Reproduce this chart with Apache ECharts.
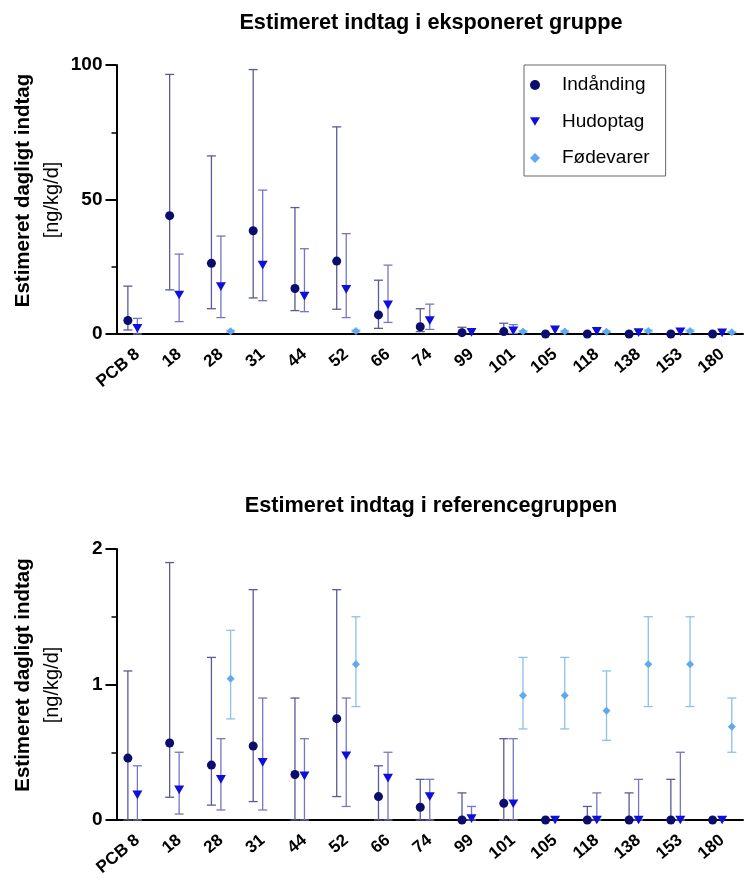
<!DOCTYPE html>
<html>
<head>
<meta charset="utf-8">
<script src="https://cdn.jsdelivr.net/npm/echarts@6/dist/echarts.min.js"></script>
<style>
html,body{margin:0;padding:0;background:#fff;}
#c{width:747px;height:891px;}
</style>
</head>
<body>
<div id="c"></div>
<script>
var categories = ['PCB 8','18','28','31','44','52','66','74','99','101','105','118','138','153','180'];
var seriesNames = ['Indånding','Hudoptag','Fødevarer'];
var titles = ['Estimeret indtag i eksponeret gruppe','Estimeret indtag i referencegruppen'];
var yName = 'Estimeret dagligt indtag';
var yUnit = '[ng/kg/d]';
var topTicks = [0, 50, 100];
var bottomTicks = [0, 1, 2];

// Exposed group (top)
var expInhal     = [5.0, 44.0, 26.3, 38.4, 16.9, 27.1, 7.1, 2.7, 0.5, 0.9, 0, 0, 0, 0, 0];
var expInhalLow  = [1.5, 16.4, 9.4, 13.4, 8.7, 9.2, 2.1, 0.9, 0, 0.2, null, null, null, null, null];
var expInhalHigh = [17.8, 96.5, 66.2, 98.3, 47.0, 77.0, 20.0, 9.4, 2.5, 4.0, null, null, null, null, null];
var expDerm      = [2.1, 14.5, 17.6, 25.6, 14.1, 16.6, 10.8, 5.0, 0.6, 1.2, 1.5, 1.0, 0.5, 0.8, 0.4];
var expDermLow   = [0, 4.6, 6.1, 12.4, 8.3, 6.1, 4.3, 1.7, null, 0.2, null, null, null, null, null];
var expDermHigh  = [5.8, 29.7, 36.4, 53.5, 31.7, 37.3, 25.6, 11.1, null, 3.5, null, null, null, null, null];

// Reference group (bottom)
var refInhal     = [0.457, 0.568, 0.405, 0.546, 0.336, 0.748, 0.173, 0.094, 0, 0.123, 0, 0, 0, 0, 0];
var refInhalLow  = [0, 0.168, 0.11, 0.136, 0, 0.173, 0, 0, 0, 0, null, 0, 0, 0, null];
var refInhalHigh = [1.10, 1.90, 1.20, 1.70, 0.90, 1.70, 0.40, 0.30, 0.20, 0.60, null, 0.10, 0.20, 0.30, null];
var refDerm      = [0.185, 0.222, 0.30, 0.425, 0.326, 0.474, 0.309, 0.173, 0.01, 0.12, 0, 0, 0, 0, 0];
var refDermLow   = [0, 0.044, 0.074, 0.074, 0, 0.10, 0, 0, 0, 0, null, 0, 0, 0, null];
var refDermHigh  = [0.40, 0.50, 0.60, 0.90, 0.60, 0.90, 0.50, 0.30, 0.10, 0.60, null, 0.20, 0.30, 0.50, null];

// Food (same in both groups)
var food     = [null, null, 1.042, null, null, 1.15, null, null, null, 0.918, 0.918, 0.807, 1.15, 1.15, 0.689];
var foodLow  = [null, null, 0.746, null, null, 0.837, null, null, null, 0.672, 0.672, 0.588, 0.837, 0.837, 0.50];
var foodHigh = [null, null, 1.40, null, null, 1.50, null, null, null, 1.20, 1.20, 1.10, 1.50, 1.50, 0.90];

var FONT = "'Liberation Sans', Arial, sans-serif";
var cInhal = '#0c0c6c', cDerm = '#0f0fdc', cFood = '#62a8ec';
var eInhal = '#5a5a96', eDerm = '#7676c4', eFood = '#8cc0ee';
var offInhal = -9.5, offDerm = 0, offFood = 9.7;
var triDown = 'path://M0,0 L10,0 L5,8.7 Z';

function errData(lo, hi) {
  var out = [];
  for (var i = 0; i < lo.length; i++) {
    if (lo[i] != null && hi[i] != null) out.push([i, lo[i], hi[i]]);
  }
  return out;
}
function ptData(v) { return v.map(function (d) { return d == null ? '-' : d; }); }

function errSeries(idx, lo, hi, off, color) {
  return {
    type: 'custom', xAxisIndex: idx, yAxisIndex: idx, z: 2,
    data: errData(lo, hi),
    encode: { x: 0, y: [1, 2] },
    silent: true,
    renderItem: function (params, api) {
      var i = api.value(0);
      var a = api.coord([i, api.value(1)]);
      var b = api.coord([i, api.value(2)]);
      var x = a[0] + off;
      var cw = 4.5;
      var st = { stroke: color, lineWidth: 1.3 };
      return {
        type: 'group',
        children: [
          { type: 'line', shape: { x1: x, y1: a[1], x2: x, y2: b[1] }, style: st },
          { type: 'line', shape: { x1: x - cw, y1: a[1], x2: x + cw, y2: a[1] }, style: st },
          { type: 'line', shape: { x1: x - cw, y1: b[1], x2: x + cw, y2: b[1] }, style: st }
        ]
      };
    }
  };
}
function ptSeries(idx, name, vals, off, color, symbol, size) {
  return {
    type: 'scatter', name: name, xAxisIndex: idx, yAxisIndex: idx, z: 5,
    data: ptData(vals), symbol: symbol, symbolSize: size,
    symbolOffset: [off, 0], clip: false,
    itemStyle: { color: color, opacity: 1 },
    emphasis: { disabled: true }
  };
}

function xAx(idx) {
  return {
    type: 'category', gridIndex: idx, data: categories, boundaryGap: true,
    axisLine: { lineStyle: { color: '#000', width: 2 } },
    axisTick: { alignWithLabel: true, length: 10, lineStyle: { color: '#000', width: 2 } },
    axisLabel: { rotate: 40, interval: 0, margin: 18, color: '#000', fontSize: 17, fontWeight: 'bold', fontFamily: FONT },
    splitLine: { show: false }
  };
}
function yAx(idx, max, step, ticks) {
  return {
    type: 'value', gridIndex: idx, min: 0, max: max, interval: step,
    axisLine: { show: true, lineStyle: { color: '#000', width: 2 } },
    axisTick: { show: true, length: 11, lineStyle: { color: '#000', width: 2 } },
    minorTick: { show: true, splitNumber: 2, length: 5, lineStyle: { color: '#000', width: 1.5 } },
    axisLabel: {
      margin: 14, color: '#000', fontSize: 19, fontWeight: 'bold', fontFamily: FONT,
      formatter: function (v) { return ticks.indexOf(v) >= 0 ? String(v) : ''; }
    },
    splitLine: { show: false }
  };
}

function txt(x, y, text, size, weight, rot) {
  return {
    type: 'text', x: x, y: y, rotation: rot || 0, silent: true,
    style: { text: text, fill: '#000', fontSize: size, fontWeight: weight, fontFamily: FONT, align: 'center', verticalAlign: 'middle' }
  };
}

var chart = echarts.init(document.getElementById('c'), null, { renderer: 'canvas' });
chart.setOption({
  backgroundColor: '#fff',
  animation: false,
  grid: [
    { left: 116.5, right: 4, top: 65, height: 269 },
    { left: 116.5, right: 4, top: 549, height: 271 }
  ],
  xAxis: [xAx(0), xAx(1)],
  yAxis: [yAx(0, 100, 50, topTicks), yAx(1, 2, 1, bottomTicks)],
  legend: {
    data: [
      { name: seriesNames[0], icon: 'circle' },
      { name: seriesNames[1], icon: triDown },
      { name: seriesNames[2], icon: 'diamond' }
    ],
    orient: 'vertical', left: 524, top: 65,
    padding: [10, 16, 8, 6], itemGap: 16.5, itemWidth: 10, itemHeight: 10,
    borderColor: '#666', borderWidth: 1, selectedMode: false,
    textStyle: { fontSize: 19, fontFamily: FONT, color: '#000', lineHeight: 20, padding: [0, 0, 0, 17] }
  },
  graphic: [
    txt(431, 23, titles[0], 21.7, 'bold'),
    txt(431, 506, titles[1], 21.7, 'bold'),
    txt(23, 190.5, yName, 20.5, 'bold', Math.PI / 2),
    txt(52, 200, yUnit, 20, 'normal', Math.PI / 2),
    txt(23, 675, yName, 20.5, 'bold', Math.PI / 2),
    txt(52, 685, yUnit, 20, 'normal', Math.PI / 2)
  ],
  series: [
    errSeries(0, expInhalLow, expInhalHigh, offInhal, eInhal),
    errSeries(0, expDermLow, expDermHigh, offDerm, eDerm),
    errSeries(0, foodLow, foodHigh, offFood, eFood),
    ptSeries(0, seriesNames[0], expInhal, offInhal, cInhal, 'circle', 9),
    ptSeries(0, seriesNames[1], expDerm, offDerm, cDerm, triDown, [10, 8.7]),
    ptSeries(0, seriesNames[2], food, offFood, cFood, 'diamond', 8),
    errSeries(1, refInhalLow, refInhalHigh, offInhal, eInhal),
    errSeries(1, refDermLow, refDermHigh, offDerm, eDerm),
    errSeries(1, foodLow, foodHigh, offFood, eFood),
    ptSeries(1, seriesNames[0], refInhal, offInhal, cInhal, 'circle', 9),
    ptSeries(1, seriesNames[1], refDerm, offDerm, cDerm, triDown, [10, 8.7]),
    ptSeries(1, seriesNames[2], food, offFood, cFood, 'diamond', 8)
  ]
});
</script>
</body>
</html>
